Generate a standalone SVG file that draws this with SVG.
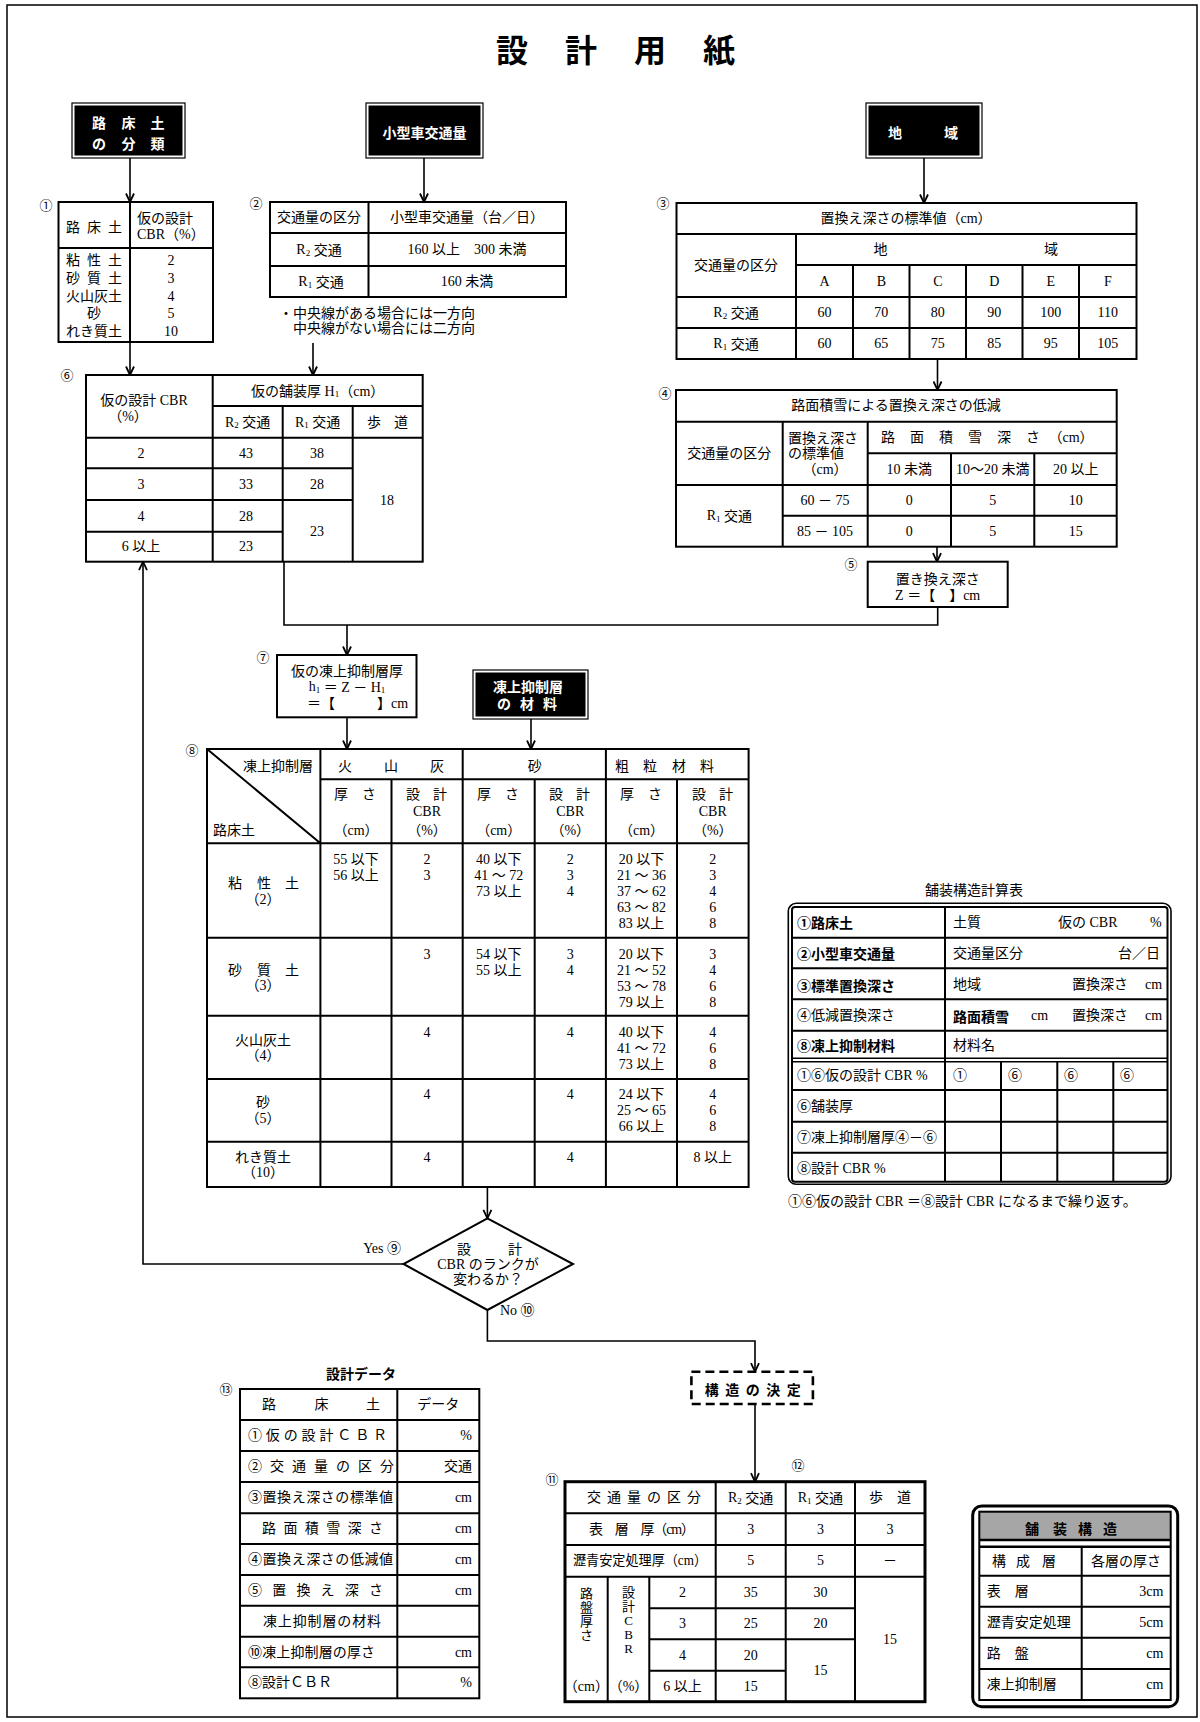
<svg xmlns="http://www.w3.org/2000/svg" width="1200" height="1722" viewBox="0 0 1200 1722">
<defs>
<style>
.t{font-family:"Liberation Serif","Noto Sans CJK JP",serif;font-size:14px;fill:#000;dominant-baseline:central}
.m{text-anchor:middle}
.e{text-anchor:end}
.b{font-family:"Noto Sans CJK JP",sans-serif;font-weight:bold}
.w{fill:#fff}
.sub{font-size:9px}
.n{font-size:13px}
.ln{stroke:#000;stroke-width:2;fill:none}
.bx{stroke:#000;stroke-width:2;fill:#fff}
.cn{stroke:#000;stroke-width:1.6;fill:none}
.hb{fill:#000}
.ho{fill:#fff;stroke:#000;stroke-width:1.2}
</style>
<marker id="ah" viewBox="0 0 10 10" refX="9.5" refY="5" markerWidth="10" markerHeight="10" markerUnits="userSpaceOnUse" orient="auto"><path d="M1,1 L9.5,5 L1,9" fill="none" stroke="#000" stroke-width="1.8"/></marker>
</defs>
<rect x="0" y="0" width="1200" height="1722" fill="#fff"/>
<rect x="7" y="5" width="1190" height="1712" fill="none" stroke="#000" stroke-width="1.5"/>
<g id="title"><text class="t b m" x="512 581 650 719" y="48" style="font-size:32px">設計用紙</text></g>

<g id="hdr-soil">
<rect class="ho" x="72" y="103" width="113" height="55"/>
<rect class="hb" x="74.5" y="105.5" width="108" height="50"/>
<text class="t b m w" x="99 128.5 157.5" y="122">路床土</text>
<text class="t b m w" x="99 128.5 157.5" y="143">の分類</text>
</g>
<g id="hdr-traffic">
<rect class="ho" x="366" y="103" width="117" height="55"/>
<rect class="hb" x="368.5" y="105.5" width="112" height="50"/>
<text class="t b m w" x="424.5" y="132">小型車交通量</text>
</g>
<g id="hdr-region">
<rect class="ho" x="866" y="103" width="116" height="55"/>
<rect class="hb" x="868.5" y="105.5" width="111" height="50"/>
<text class="t b m w" x="895 951" y="132">地域</text>
</g>

<g id="n1">
<text class="t m n" x="46" y="205">①</text>
<rect class="bx" x="58.5" y="202" width="154.5" height="140"/>
<path class="ln" d="M130,202V342M58.5,248H213"/>
<text class="t m" x="73 94 115" y="227">路床土</text>
<text class="t" x="137" y="218">仮の設計</text>
<text class="t" x="137" y="234">CBR（%）</text>
<text class="t m" x="73 94 115" y="260">粘性土</text>
<text class="t m" x="73 94 115" y="278">砂質土</text>
<text class="t m" x="94" y="296">火山灰土</text>
<text class="t m" x="94" y="313">砂</text>
<text class="t m" x="94" y="331.5">れき質土</text>
<text class="t m" x="171" y="260">2</text>
<text class="t m" x="171" y="278">3</text>
<text class="t m" x="171" y="296">4</text>
<text class="t m" x="171" y="313">5</text>
<text class="t m" x="171" y="331.5">10</text>
</g>

<g id="n2">
<text class="t m n" x="256" y="203">②</text>
<rect class="bx" x="270" y="202" width="296" height="95"/>
<path class="ln" d="M368.5,202V297M270,233H566M270,266H566"/>
<text class="t m" x="319" y="217.5">交通量の区分</text>
<text class="t m" x="467" y="217.5">小型車交通量（台／日）</text>
<text class="t m" x="319" y="249.5">R<tspan class="sub" dy="3">2</tspan><tspan dy="-3"> 交通</tspan></text>
<text class="t m" x="467" y="249.5">160 以上　300 未満</text>
<text class="t m" x="321" y="281.5">R<tspan class="sub" dy="3">1</tspan><tspan dy="-3"> 交通</tspan></text>
<text class="t m" x="467" y="281.5">160 未満</text>
</g>
<g id="note2">
<text class="t" x="279" y="313">・中央線がある場合には一方向</text>
<text class="t" x="293" y="328">中央線がない場合には二方向</text>
</g>

<g id="n3">
<text class="t m n" x="663" y="203">③</text>
<rect class="bx" x="676.5" y="203" width="460" height="156"/>
<path class="ln" d="M676.5,234H1136.5M796,265H1136.5M676.5,297H1136.5M676.5,328H1136.5M796,234V359M853,265V359M909.5,265V359M966,265V359M1022.5,265V359M1079,265V359"/>
<text class="t m" x="906" y="218.5">置換え深さの標準値（cm）</text>
<text class="t m" x="736" y="265.5">交通量の区分</text>
<text class="t m" x="880.5 1051" y="249.5">地域</text>
<text class="t m" x="824.5 881.3 937.8 994.3 1050.8 1107.8" y="281">ABCDEF</text>
<text class="t m" x="736" y="312.5">R<tspan class="sub" dy="3">2</tspan><tspan dy="-3"> 交通</tspan></text>
<text class="t m" x="824.5" y="312.5">60</text>
<text class="t m" x="881.3" y="312.5">70</text>
<text class="t m" x="937.8" y="312.5">80</text>
<text class="t m" x="994.3" y="312.5">90</text>
<text class="t m" x="1050.8" y="312.5">100</text>
<text class="t m" x="1107.8" y="312.5">110</text>
<text class="t m" x="736" y="343.5">R<tspan class="sub" dy="3">1</tspan><tspan dy="-3"> 交通</tspan></text>
<text class="t m" x="824.5" y="343.5">60</text>
<text class="t m" x="881.3" y="343.5">65</text>
<text class="t m" x="937.8" y="343.5">75</text>
<text class="t m" x="994.3" y="343.5">85</text>
<text class="t m" x="1050.8" y="343.5">95</text>
<text class="t m" x="1107.8" y="343.5">105</text>
</g>

<g id="n4">
<text class="t m n" x="665" y="393">④</text>
<rect class="bx" x="676" y="390" width="440.7" height="156.7"/>
<path class="ln" d="M676,421.7H1116.7M867.7,453.3H1116.7M676,485H1116.7M782.7,515.7H1116.7M782.7,421.7V546.7M867.7,421.7V546.7M951,453.3V546.7M1034.3,453.3V546.7"/>
<text class="t m" x="896" y="405.7">路面積雪による置換え深さの低減</text>
<text class="t m" x="729.3" y="453">交通量の区分</text>
<text class="t" x="788" y="438">置換え深さ</text>
<text class="t" x="788" y="453">の標準値</text>
<text class="t m" x="825" y="469">（cm）</text>
<text class="t m" x="888 917 946 975 1004 1033" y="437.5">路面積雪深さ</text>
<text class="t m" x="1071" y="437.5">（cm）</text>
<text class="t m" x="909.3" y="469">10 未満</text>
<text class="t m" x="992.7" y="469">10～20 未満</text>
<text class="t m" x="1075.7" y="469">20 以上</text>
<text class="t m" x="729.3" y="515.8">R<tspan class="sub" dy="3">1</tspan><tspan dy="-3"> 交通</tspan></text>
<text class="t m" x="825" y="500.3">60 － 75</text>
<text class="t m" x="909.3" y="500.3">0</text>
<text class="t m" x="992.7" y="500.3">5</text>
<text class="t m" x="1075.7" y="500.3">10</text>
<text class="t m" x="825" y="531.2">85 － 105</text>
<text class="t m" x="909.3" y="531.2">0</text>
<text class="t m" x="992.7" y="531.2">5</text>
<text class="t m" x="1075.7" y="531.2">15</text>
</g>

<g id="n5">
<text class="t m n" x="851" y="564">⑤</text>
<rect class="bx" x="867.7" y="561.7" width="140" height="45.3"/>
<text class="t m" x="937.7" y="579">置き換え深さ</text>
<text class="t m" x="937.7" y="595.7">Z ＝【　】cm</text>
</g>

<g id="n6">
<text class="t m n" x="67" y="375">⑥</text>
<rect class="bx" x="86" y="375" width="336.7" height="186.7"/>
<path class="ln" d="M212.7,375V561.7M282.7,406V561.7M352.7,406V561.7M212.7,406H422.7M86,437.7H422.7M86,468.3H352.7M86,500H352.7M86,531.7H282.7"/>
<text class="t m" x="144" y="400">仮の設計 CBR</text>
<text class="t m" x="128" y="416">（%）</text>
<text class="t m" x="317.7" y="391">仮の舗装厚 H<tspan class="sub" dy="3">1</tspan><tspan dy="-3">（cm）</tspan></text>
<text class="t m" x="247.7" y="422">R<tspan class="sub" dy="3">2</tspan><tspan dy="-3"> 交通</tspan></text>
<text class="t m" x="317.7" y="422">R<tspan class="sub" dy="3">1</tspan><tspan dy="-3"> 交通</tspan></text>
<text class="t m" x="374 401" y="422">歩道</text>
<text class="t m" x="141" y="453">2</text>
<text class="t m" x="141" y="484">3</text>
<text class="t m" x="141" y="516">4</text>
<text class="t m" x="141" y="546.7">6 以上</text>
<text class="t m" x="246" y="453">43</text>
<text class="t m" x="246" y="484">33</text>
<text class="t m" x="246" y="516">28</text>
<text class="t m" x="246" y="546.7">23</text>
<text class="t m" x="317" y="453">38</text>
<text class="t m" x="317" y="484">28</text>
<text class="t m" x="317" y="531">23</text>
<text class="t m" x="387" y="500">18</text>
</g>

<g id="n7">
<text class="t m n" x="263" y="657">⑦</text>
<rect class="bx" x="277" y="655" width="139.5" height="62.3"/>
<text class="t m" x="347" y="671.7">仮の凍上抑制層厚</text>
<text class="t m" x="347" y="686.7">h<tspan class="sub" dy="3">1</tspan><tspan dy="-3"> ＝ Z － H</tspan><tspan class="sub" dy="3">1</tspan></text>
<text class="t" x="307" y="703.3">＝【　　　】cm</text>
</g>

<g id="hdr-material">
<rect class="ho" x="473" y="670" width="115" height="49"/>
<rect class="hb" x="475.5" y="672.5" width="110" height="44"/>
<text class="t b m w" x="528" y="686">凍上抑制層</text>
<text class="t b m w" x="504 527 550" y="703">の材料</text>
</g>

<g id="n8">
<text class="t m n" x="192" y="750">⑧</text>
<rect class="bx" x="207" y="749" width="541.6" height="438"/>
<path class="ln" d="M320.4,749V1187M462.7,749V1187M605.9,749V1187M391.5,779.3V1187M534.7,779.3V1187M677,779.3V1187M320.4,779.3H748.6M207,843.3H748.6M207,937.7H748.6M207,1015.7H748.6M207,1079H748.6M207,1141.7H748.6M207,749L320.4,843.3"/>
<text class="t m" x="278" y="766">凍上抑制層</text>
<text class="t" x="213" y="830">路床土</text>
<text class="t m" x="345 391 437" y="766">火山灰</text>
<text class="t m" x="534.7" y="766">砂</text>
<text class="t m" x="622 650 679 707" y="766">粗粒材料</text>
<text class="t m" x="341 369" y="794">厚さ</text>
<text class="t m" x="484 512" y="794">厚さ</text>
<text class="t m" x="627 655" y="794">厚さ</text>
<text class="t m" x="356" y="830">（cm）</text>
<text class="t m" x="498.7" y="830">（cm）</text>
<text class="t m" x="641.5" y="830">（cm）</text>
<text class="t m" x="413 440" y="794">設計</text>
<text class="t m" x="556 583" y="794">設計</text>
<text class="t m" x="699 726" y="794">設計</text>
<text class="t m" x="427" y="811.7">CBR</text>
<text class="t m" x="570.3" y="811.7">CBR</text>
<text class="t m" x="712.8" y="811.7">CBR</text>
<text class="t m" x="427" y="830">（%）</text>
<text class="t m" x="570.3" y="830">（%）</text>
<text class="t m" x="712.8" y="830">（%）</text>

<text class="t m" x="235 264 292" y="883.3">粘性土</text>
<text class="t m" x="263" y="899">（2）</text>
<text class="t m" x="235 264 292" y="970">砂質土</text>
<text class="t m" x="263" y="985.7">（3）</text>
<text class="t m" x="263" y="1040">火山灰土</text>
<text class="t m" x="263" y="1055.7">（4）</text>
<text class="t m" x="263" y="1102.3">砂</text>
<text class="t m" x="263" y="1118">（5）</text>
<text class="t m" x="263" y="1157">れき質土</text>
<text class="t m" x="263" y="1172.5">（10）</text>

<text class="t m" x="356" y="859.3">55 以下</text>
<text class="t m" x="356" y="875.3">56 以上</text>
<text class="t m" x="427" y="859.3">2</text>
<text class="t m" x="427" y="875.3">3</text>
<text class="t m" x="498.7" y="859.3">40 以下</text>
<text class="t m" x="498.7" y="875.3">41 ～ 72</text>
<text class="t m" x="498.7" y="891.3">73 以上</text>
<text class="t m" x="570.3" y="859.3">2</text>
<text class="t m" x="570.3" y="875.3">3</text>
<text class="t m" x="570.3" y="891.3">4</text>
<text class="t m" x="641.5" y="859.3">20 以下</text>
<text class="t m" x="641.5" y="875.3">21 ～ 36</text>
<text class="t m" x="641.5" y="891.3">37 ～ 62</text>
<text class="t m" x="641.5" y="907.3">63 ～ 82</text>
<text class="t m" x="641.5" y="923.3">83 以上</text>
<text class="t m" x="712.8" y="859.3">2</text>
<text class="t m" x="712.8" y="875.3">3</text>
<text class="t m" x="712.8" y="891.3">4</text>
<text class="t m" x="712.8" y="907.3">6</text>
<text class="t m" x="712.8" y="923.3">8</text>

<text class="t m" x="427" y="954">3</text>
<text class="t m" x="498.7" y="954">54 以下</text>
<text class="t m" x="498.7" y="970">55 以上</text>
<text class="t m" x="570.3" y="954">3</text>
<text class="t m" x="570.3" y="970">4</text>
<text class="t m" x="641.5" y="954">20 以下</text>
<text class="t m" x="641.5" y="970">21 ～ 52</text>
<text class="t m" x="641.5" y="986">53 ～ 78</text>
<text class="t m" x="641.5" y="1002">79 以上</text>
<text class="t m" x="712.8" y="954">3</text>
<text class="t m" x="712.8" y="970">4</text>
<text class="t m" x="712.8" y="986">6</text>
<text class="t m" x="712.8" y="1002">8</text>

<text class="t m" x="427" y="1032">4</text>
<text class="t m" x="570.3" y="1032">4</text>
<text class="t m" x="641.5" y="1032">40 以下</text>
<text class="t m" x="641.5" y="1048">41 ～ 72</text>
<text class="t m" x="641.5" y="1064">73 以上</text>
<text class="t m" x="712.8" y="1032">4</text>
<text class="t m" x="712.8" y="1048">6</text>
<text class="t m" x="712.8" y="1064">8</text>

<text class="t m" x="427" y="1094.5">4</text>
<text class="t m" x="570.3" y="1094.5">4</text>
<text class="t m" x="641.5" y="1094.5">24 以下</text>
<text class="t m" x="641.5" y="1110.5">25 ～ 65</text>
<text class="t m" x="641.5" y="1126.5">66 以上</text>
<text class="t m" x="712.8" y="1094.5">4</text>
<text class="t m" x="712.8" y="1110.5">6</text>
<text class="t m" x="712.8" y="1126.5">8</text>

<text class="t m" x="427" y="1157">4</text>
<text class="t m" x="570.3" y="1157">4</text>
<text class="t m" x="712.8" y="1157">8 以上</text>
</g>

<g id="calc">
<text class="t m" x="974" y="890">舗装構造計算表</text>
<rect x="788.3" y="903.3" width="382.7" height="281" rx="8" fill="#fff" stroke="#000" stroke-width="1.6"/>
<rect x="792" y="907" width="375.5" height="274.7" rx="3" fill="none" stroke="#000" stroke-width="2"/>
<path class="ln" d="M945,907V1181.7M792,937.7H1167.5M792,968.3H1167.5M792,999.3H1167.5M792,1030.7H1167.5M792,1090H1167.5M792,1121.7H1167.5M792,1152.7H1167.5M1001,1061.5V1181.7M1057.3,1061.5V1181.7M1113.3,1061.5V1181.7"/>
<path d="M792,1058.2H1167.5M792,1061.8H1167.5" stroke="#000" stroke-width="1.6"/>
<text class="t b" x="797" y="922">①路床土</text>
<text class="t b" x="797" y="953">②小型車交通量</text>
<text class="t b" x="797" y="984.5">③標準置換深さ</text>
<text class="t" x="797" y="1015.5">④低減置換深さ</text>
<text class="t b" x="797" y="1045">⑧凍上抑制材料</text>
<text class="t" x="797" y="1075.5">①⑥仮の設計 CBR %</text>
<text class="t" x="797" y="1106.5">⑥舗装厚</text>
<text class="t" x="797" y="1137.5">⑦凍上抑制層厚④－⑥</text>
<text class="t" x="797" y="1168.5">⑧設計 CBR %</text>
<text class="t" x="953" y="922">土質</text>
<text class="t" x="1058" y="922">仮の CBR</text>
<text class="t" x="1150" y="922">%</text>
<text class="t" x="953" y="953">交通量区分</text>
<text class="t" x="1118" y="953">台／日</text>
<text class="t" x="953" y="984.5">地域</text>
<text class="t" x="1072" y="984.5">置換深さ</text>
<text class="t" x="1145" y="984.5">cm</text>
<text class="t b" x="953" y="1015.5">路面積雪</text>
<text class="t" x="1031" y="1015.5">cm</text>
<text class="t" x="1072" y="1015.5">置換深さ</text>
<text class="t" x="1145" y="1015.5">cm</text>
<text class="t" x="953" y="1045">材料名</text>
<text class="t" x="953" y="1075.5">①</text>
<text class="t" x="1008" y="1075.5">⑥</text>
<text class="t" x="1064" y="1075.5">⑥</text>
<text class="t" x="1120" y="1075.5">⑥</text>
<text class="t" x="788" y="1201.7">①⑥仮の設計 CBR ＝⑧設計 CBR になるまで繰り返す。</text>
</g>

<g id="n9">
<polygon points="487.4,1218.3 573,1264 487.4,1310 403.5,1264" fill="#fff" stroke="#000" stroke-width="2"/>
<text class="t m" x="464 515" y="1249">設計</text>
<text class="t m" x="488" y="1264">CBR のランクが</text>
<text class="t m" x="488" y="1279">変わるか？</text>
</g>

<g id="n12">
<rect x="691.4" y="1371.7" width="121.5" height="32.3" fill="#fff" stroke="#000" stroke-width="2.6" stroke-dasharray="9 5"/>
<text class="t b m" x="752.8" y="1389" textLength="96" lengthAdjust="spacing">構造の決定</text>
</g>

<g id="n13">
<text class="t b m" x="361" y="1372.7">設計データ</text>
<text class="t m n" x="226" y="1389">⑬</text>
<rect class="bx" x="240" y="1389" width="239.3" height="309.3"/>
<path class="ln" d="M397.3,1389V1698.3M240,1420H479.3M240,1451H479.3M240,1482H479.3M240,1513.3H479.3M240,1544H479.3M240,1575H479.3M240,1605.7H479.3M240,1636.7H479.3M240,1667.3H479.3"/>
<text class="t m" x="269 321.5 373" y="1404.5">路床土</text>
<text class="t m" x="438.3" y="1404.5">データ</text>
<text class="t" x="248" y="1435.5" textLength="139" lengthAdjust="spacing">①仮の設計ＣＢＲ</text>
<text class="t" x="248" y="1466.5" textLength="146" lengthAdjust="spacing">②交通量の区分</text>
<text class="t" x="248" y="1497.7" textLength="145" lengthAdjust="spacing">③置換え深さの標準値</text>
<text class="t" x="262" y="1528.7" textLength="121" lengthAdjust="spacing">路面積雪深さ</text>
<text class="t" x="248" y="1559.5" textLength="145" lengthAdjust="spacing">④置換え深さの低減値</text>
<text class="t" x="248" y="1590.3" textLength="135" lengthAdjust="spacing">⑤置換え深さ</text>
<text class="t" x="263" y="1621.2" textLength="118" lengthAdjust="spacing">凍上抑制層の材料</text>
<text class="t" x="248" y="1652" textLength="127" lengthAdjust="spacing">⑩凍上抑制層の厚さ</text>
<text class="t" x="248" y="1682.8">⑧設計ＣＢＲ</text>
<text class="t e" x="472" y="1435.5">%</text>
<text class="t e" x="472" y="1466.5">交通</text>
<text class="t e" x="472" y="1497.7">cm</text>
<text class="t e" x="472" y="1528.7">cm</text>
<text class="t e" x="472" y="1559.5">cm</text>
<text class="t e" x="472" y="1590.3">cm</text>
<text class="t e" x="472" y="1652">cm</text>
<text class="t e" x="472" y="1682.8">%</text>
</g>

<g id="n11">
<text class="t m n" x="552" y="1479">⑪</text>
<text class="t m n" x="798" y="1465">⑫</text>
<rect x="565" y="1481.7" width="360" height="220" fill="#fff" stroke="#000" stroke-width="3"/>
<path class="ln" d="M715.7,1481.7V1701.7M785.7,1481.7V1701.7M855,1481.7V1701.7M607.7,1576.7V1701.7M649.3,1576.7V1701.7M565,1513.3H925M565,1545H925M565,1576.7H925M649.3,1608.3H855M649.3,1639.3H855M649.3,1670.7H785.7"/>
<text class="t" x="587" y="1497.5" textLength="114" lengthAdjust="spacing">交通量の区分</text>
<text class="t m" x="750.7" y="1497.5">R<tspan class="sub" dy="3">2</tspan><tspan dy="-3"> 交通</tspan></text>
<text class="t m" x="820.4" y="1497.5">R<tspan class="sub" dy="3">1</tspan><tspan dy="-3"> 交通</tspan></text>
<text class="t m" x="876 904" y="1497.5">歩道</text>
<text class="t" x="589" y="1529.2" textLength="106" lengthAdjust="spacing">表　層　厚（cm）</text>
<text class="t m" x="750.7" y="1529.2">3</text>
<text class="t m" x="820.4" y="1529.2">3</text>
<text class="t m" x="890" y="1529.2">3</text>
<text class="t" x="573" y="1560.9" textLength="134" lengthAdjust="spacingAndGlyphs">瀝青安定処理厚（cm）</text>
<text class="t m" x="750.7" y="1560.9">5</text>
<text class="t m" x="820.4" y="1560.9">5</text>
<text class="t m" x="890" y="1560.9">－</text>
<text class="t m n" x="586.4 586.4 586.4 586.4" y="1593 1607 1621 1635">路盤厚さ</text>
<text class="t m n" x="628.5 628.5 628.5 628.5 628.5" y="1592 1606 1620 1634 1648">設計CBR</text>
<text class="t m" x="586.4" y="1686.2">（cm）</text>
<text class="t m" x="628.5" y="1686.2">（%）</text>
<text class="t m" x="682.5" y="1592.5">2</text>
<text class="t m" x="682.5" y="1623.8">3</text>
<text class="t m" x="682.5" y="1655">4</text>
<text class="t m" x="682.5" y="1686.2">6 以上</text>
<text class="t m" x="750.7" y="1592.5">35</text>
<text class="t m" x="750.7" y="1623.8">25</text>
<text class="t m" x="750.7" y="1655">20</text>
<text class="t m" x="750.7" y="1686.2">15</text>
<text class="t m" x="820.4" y="1592.5">30</text>
<text class="t m" x="820.4" y="1623.8">20</text>
<text class="t m" x="820.4" y="1670.5">15</text>
<text class="t m" x="890" y="1639">15</text>
</g>

<g id="pave">
<rect x="972.7" y="1506" width="205" height="200.7" rx="9" fill="#fff" stroke="#000" stroke-width="3"/>
<rect x="979.3" y="1511.7" width="191.4" height="28.3" fill="#a6a6a6"/>
<rect x="979.3" y="1511.7" width="191.4" height="188.3" fill="none" stroke="#000" stroke-width="2"/>
<path d="M979.3,1540H1170.7M979.3,1546.7H1170.7" stroke="#000" stroke-width="2.5"/>
<path class="ln" d="M1081.7,1546.7V1700M979.3,1575.7H1170.7M979.3,1606.7H1170.7M979.3,1637.7H1170.7M979.3,1669H1170.7"/>
<text class="t b m" x="1032 1060 1085 1110" y="1527.7">舗装構造</text>
<text class="t m" x="999 1023 1049" y="1561.7">構成層</text>
<text class="t m" x="1126" y="1561.7">各層の厚さ</text>
<text class="t" x="986.7" y="1591.2">表　層</text>
<text class="t" x="986.7" y="1622.2">瀝青安定処理</text>
<text class="t" x="986.7" y="1653.3">路　盤</text>
<text class="t" x="986.7" y="1684.5">凍上抑制層</text>
<text class="t e" x="1163.3" y="1591.2">3cm</text>
<text class="t e" x="1163.3" y="1622.2">5cm</text>
<text class="t e" x="1163.3" y="1653.3">cm</text>
<text class="t e" x="1163.3" y="1684.5">cm</text>
</g>

<g id="connectors">
<path class="cn" d="M130,158V202" marker-end="url(#ah)"/>
<path class="cn" d="M424,158V202" marker-end="url(#ah)"/>
<path class="cn" d="M924,158V203" marker-end="url(#ah)"/>
<path class="cn" d="M130,342V375" marker-end="url(#ah)"/>
<path class="cn" d="M313,343V375" marker-end="url(#ah)"/>
<path class="cn" d="M937.5,359V390" marker-end="url(#ah)"/>
<path class="cn" d="M937,546.7V561.7" marker-end="url(#ah)"/>
<path class="cn" d="M284,561.7V625H937.7V607"/>
<path class="cn" d="M347,625V655" marker-end="url(#ah)"/>
<path class="cn" d="M347,717.3V749" marker-end="url(#ah)"/>
<path class="cn" d="M531,719V749" marker-end="url(#ah)"/>
<path class="cn" d="M487.4,1187V1218.3" marker-end="url(#ah)"/>
<path class="cn" d="M403.5,1264H143V561.7" marker-end="url(#ah)"/>
<path class="cn" d="M487.4,1310V1341H755V1371.7" marker-end="url(#ah)"/>
<path class="cn" d="M755,1404V1481.7" marker-end="url(#ah)"/>
<text class="t e" x="401" y="1248">Yes ⑨</text>
<text class="t" x="500" y="1310">No ⑩</text>
</g>
</svg>
